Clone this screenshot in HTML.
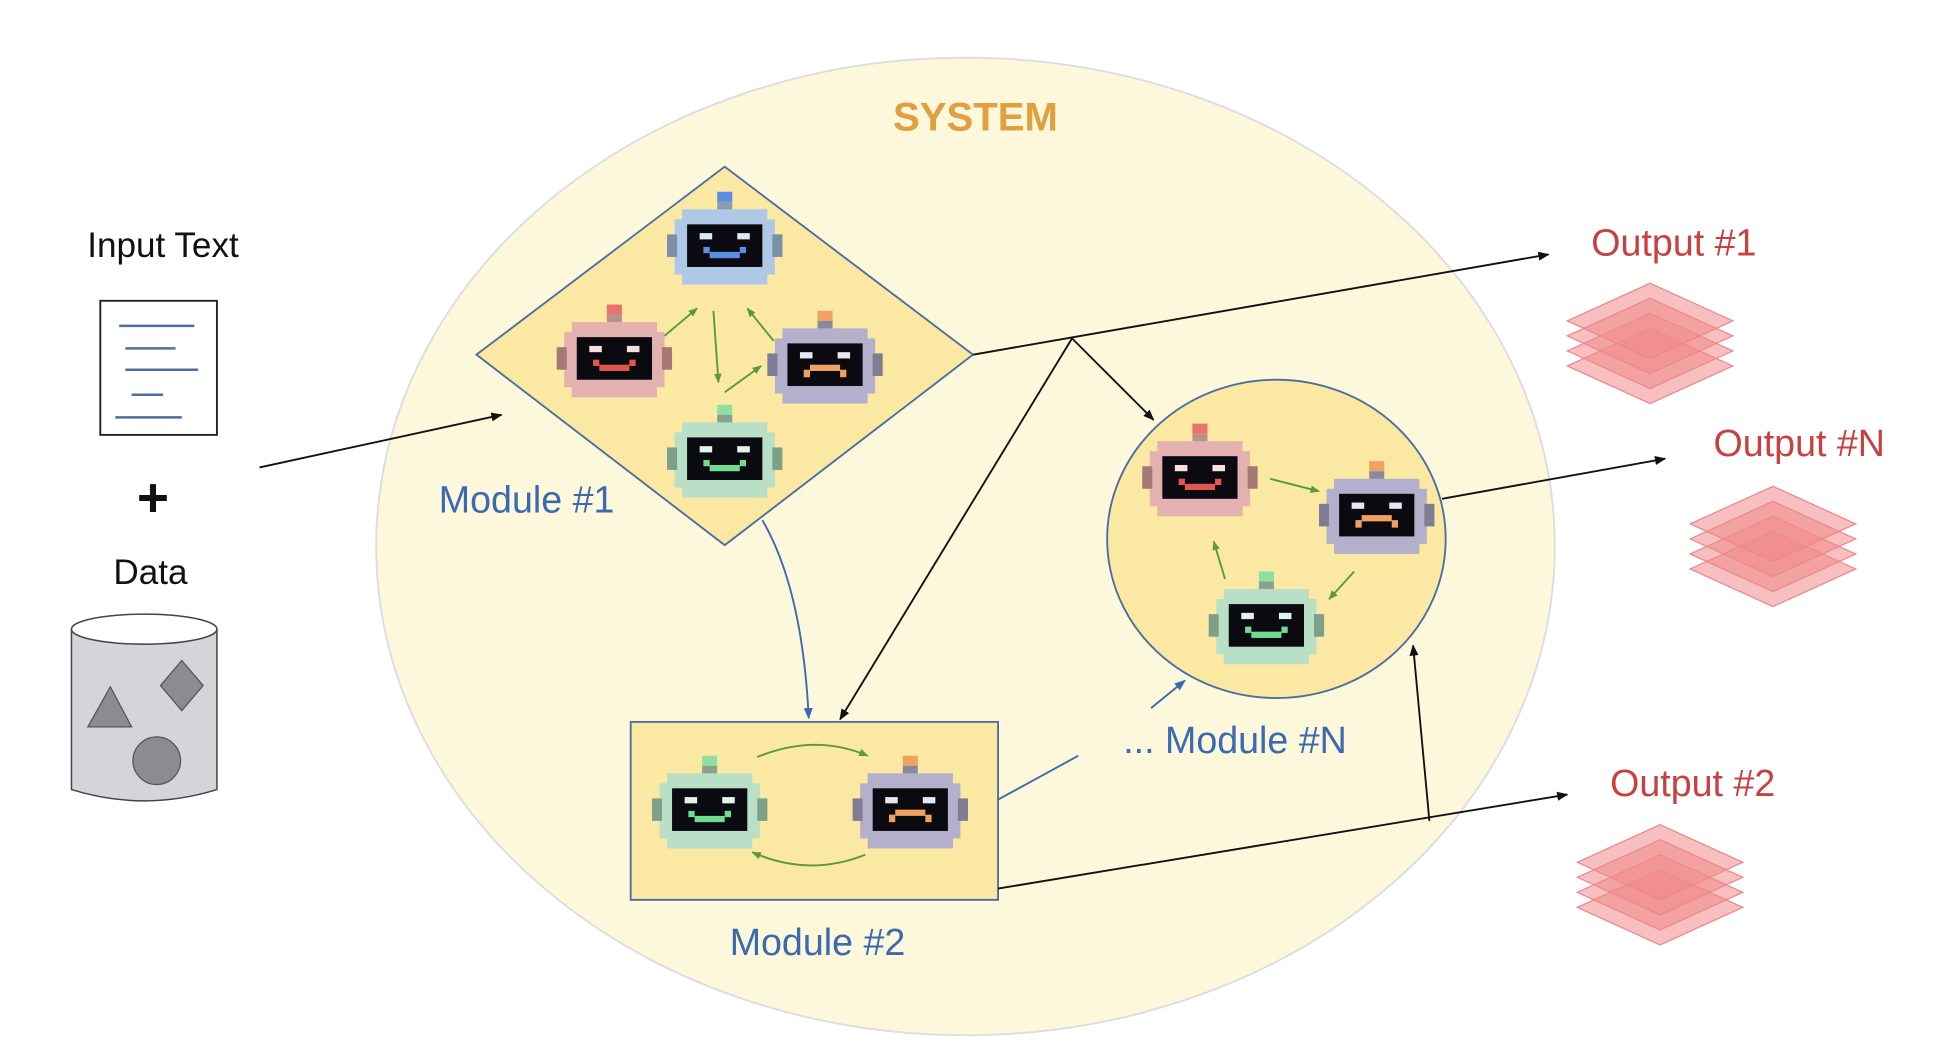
<!DOCTYPE html>
<html><head><meta charset="utf-8"><style>
html,body{margin:0;padding:0;background:#fff;}
svg{display:block}
text{font-family:"Liberation Sans",sans-serif;}
</style></head><body>
<svg width="1956" height="1049" viewBox="0 0 1560 837" preserveAspectRatio="none" xmlns="http://www.w3.org/2000/svg">
<defs>
<marker id="ab" viewBox="0 0 10 10" refX="9" refY="5" markerWidth="6" markerHeight="6" orient="auto"><path d="M0,1 L10,5 L0,9z" fill="#111"/></marker>
<marker id="ag" viewBox="0 0 10 10" refX="9" refY="5" markerWidth="5" markerHeight="5" orient="auto"><path d="M0,1 L10,5 L0,9z" fill="#5a9a3a"/></marker>
<marker id="au" viewBox="0 0 10 10" refX="9" refY="5" markerWidth="6" markerHeight="6" orient="auto"><path d="M0,1 L10,5 L0,9z" fill="#3a6ab0"/></marker>
<g id="stack">
<path d="M0,20 L66,-10 L132,20 L66,50z" fill="#f08a8a" fill-opacity="0.55" stroke="#e88" stroke-width="1"/>
<path d="M0,8 L66,-22 L132,8 L66,38z" fill="#f08a8a" fill-opacity="0.55" stroke="#e88" stroke-width="1"/>
<path d="M0,-4 L66,-34 L132,-4 L66,26z" fill="#f08a8a" fill-opacity="0.55" stroke="#e88" stroke-width="1"/>
<path d="M0,-16 L66,-46 L132,-16 L66,14z" fill="#f08a8a" fill-opacity="0.55" stroke="#e88" stroke-width="1"/>
</g>
</defs>
<rect width="1560" height="837" fill="#fff"/>
<ellipse cx="770" cy="436" rx="470" ry="390" fill="#fdf7dc" stroke="#ddd" stroke-width="1.5"/>
<text x="778" y="104" font-size="32" fill="#e0a040" text-anchor="middle" font-weight="bold">SYSTEM</text>

<path d="M578,133 L776,283 L578,435 L380,283z" fill="#fbe9a3" stroke="#4a6fa0" stroke-width="1.5"/>
<ellipse cx="1018" cy="430" rx="135" ry="127" fill="#fbe9a3" stroke="#4a6fa0" stroke-width="1.5"/>
<rect x="503" y="576" width="293" height="142" fill="#fbe9a3" stroke="#4a6fa0" stroke-width="1.5"/>

<!-- input -->
<text x="130" y="205" font-size="28" text-anchor="middle" fill="#111">Input Text</text>
<rect x="80" y="240" width="93" height="107" fill="#fff" stroke="#222" stroke-width="1.5"/>
<g stroke="#4a6fa0" stroke-width="2"><line x1="95" y1="260" x2="155" y2="260"/><line x1="100" y1="278" x2="140" y2="278"/><line x1="100" y1="295" x2="158" y2="295"/><line x1="105" y1="315" x2="130" y2="315"/><line x1="92" y1="333" x2="145" y2="333"/></g>
<text x="122" y="412" font-size="44" font-weight="bold" text-anchor="middle" fill="#111">+</text>
<text x="120" y="466" font-size="28" text-anchor="middle" fill="#111">Data</text>
<path d="M57,502 L57,630 Q115,648 173,630 L173,502" fill="#d3d5d9" stroke="#444" stroke-width="1.2"/>
<ellipse cx="115" cy="502" rx="58" ry="12" fill="#fff" stroke="#444" stroke-width="1.2"/>
<path d="M70,580 L88,548 L105,580z" fill="#8a8c90" stroke="#555"/>
<path d="M145,527 L162,547 L145,567 L128,547z" fill="#8a8c90" stroke="#555"/>
<circle cx="125" cy="607" r="19" fill="#8a8c90" stroke="#555"/>

<!-- connectors -->
<g stroke="#111" stroke-width="1.5" fill="none">
<line x1="207" y1="373" x2="400" y2="331" marker-end="url(#ab)"/>
<line x1="776" y1="283" x2="1235" y2="203" marker-end="url(#ab)"/>
<line x1="855" y1="270" x2="920" y2="335" marker-end="url(#ab)"/>
<line x1="855" y1="270" x2="670" y2="574" marker-end="url(#ab)"/>
<line x1="1150" y1="398" x2="1328" y2="366" marker-end="url(#ab)"/>
<line x1="796" y1="709" x2="1250" y2="634" marker-end="url(#ab)"/>
<line x1="1140" y1="655" x2="1127" y2="515" marker-end="url(#ab)"/>
</g>
<g stroke="#3a6ab0" stroke-width="1.5" fill="none">
<path d="M608,415 Q640,470 645,573" marker-end="url(#au)"/>
<line x1="796" y1="638" x2="860" y2="603"/>
<line x1="918" y1="565" x2="945" y2="543" marker-end="url(#au)"/>
</g>
<g stroke="#5a9a3a" stroke-width="1.5" fill="none">
<line x1="530" y1="268" x2="556" y2="246" marker-end="url(#ag)"/>
<line x1="569" y1="248" x2="573" y2="305" marker-end="url(#ag)"/>
<line x1="617" y1="272" x2="596" y2="246" marker-end="url(#ag)"/>
<line x1="578" y1="313" x2="607" y2="292" marker-end="url(#ag)"/>
<line x1="1013" y1="382" x2="1052" y2="392" marker-end="url(#ag)"/>
<line x1="1080" y1="456" x2="1060" y2="478" marker-end="url(#ag)"/>
<line x1="977" y1="462" x2="968" y2="432" marker-end="url(#ag)"/>
<path d="M604,604 Q650,585 692,603" marker-end="url(#ag)"/>
<path d="M690,682 Q645,700 600,680" marker-end="url(#ag)"/>
</g>

<!-- robots -->
<g id="rb" transform="translate(578,195)">
<rect x="-6" y="-42" width="12" height="8" fill="#5b8ee0"/><rect x="-6" y="-34" width="12" height="8" fill="#8a9ab0"/>
<rect x="-34" y="-28" width="68" height="60" fill="#aec8e6"/><rect x="-40" y="-20" width="80" height="44" fill="#aec8e6"/>
<rect x="-46" y="-8" width="8" height="18" fill="#7d8fa8"/><rect x="38" y="-8" width="8" height="18" fill="#7d8fa8"/>
<rect x="-30" y="-16" width="60" height="34" fill="#0a0a10"/>
<rect x="-20" y="-9" width="10" height="5" fill="#dfe8f5"/><rect x="10" y="-9" width="10" height="5" fill="#dfe8f5"/>
<rect x="-17" y="2" width="5" height="5" fill="#5b8ee0"/><rect x="12" y="2" width="5" height="5" fill="#5b8ee0"/><rect x="-12" y="6" width="24" height="5" fill="#5b8ee0"/>
</g>
<g id="rp" transform="translate(490,285)">
<rect x="-6" y="-42" width="12" height="8" fill="#e8736a"/><rect x="-6" y="-34" width="12" height="8" fill="#b89090"/>
<rect x="-34" y="-28" width="68" height="60" fill="#e3b2b0"/><rect x="-40" y="-20" width="80" height="44" fill="#e3b2b0"/>
<rect x="-46" y="-8" width="8" height="18" fill="#a67873"/><rect x="38" y="-8" width="8" height="18" fill="#a67873"/>
<rect x="-30" y="-16" width="60" height="34" fill="#0a0a10"/>
<rect x="-20" y="-9" width="10" height="5" fill="#f5e0e0"/><rect x="10" y="-9" width="10" height="5" fill="#f5e0e0"/>
<rect x="-17" y="2" width="5" height="5" fill="#e2574c"/><rect x="12" y="2" width="5" height="5" fill="#e2574c"/><rect x="-12" y="6" width="24" height="5" fill="#e2574c"/>
</g>
<g id="rv" transform="translate(658,290)">
<rect x="-6" y="-42" width="12" height="8" fill="#f0a060"/><rect x="-6" y="-34" width="12" height="8" fill="#8a88a0"/>
<rect x="-34" y="-28" width="68" height="60" fill="#b4b0cc"/><rect x="-40" y="-20" width="80" height="44" fill="#b4b0cc"/>
<rect x="-46" y="-8" width="8" height="18" fill="#807c94"/><rect x="38" y="-8" width="8" height="18" fill="#807c94"/>
<rect x="-30" y="-16" width="60" height="34" fill="#0a0a10"/>
<rect x="-20" y="-9" width="10" height="5" fill="#e8e6f0"/><rect x="10" y="-9" width="10" height="5" fill="#e8e6f0"/>
<rect x="-12" y="1" width="24" height="5" fill="#f0a060"/><rect x="-17" y="5" width="5" height="6" fill="#f0a060"/><rect x="12" y="5" width="5" height="6" fill="#f0a060"/>
</g>
<g id="rg" transform="translate(578,365)">
<rect x="-6" y="-42" width="12" height="8" fill="#8fe0a0"/><rect x="-6" y="-34" width="12" height="8" fill="#8aa090"/>
<rect x="-34" y="-28" width="68" height="60" fill="#b9dfc7"/><rect x="-40" y="-20" width="80" height="44" fill="#b9dfc7"/>
<rect x="-46" y="-8" width="8" height="18" fill="#7ea089"/><rect x="38" y="-8" width="8" height="18" fill="#7ea089"/>
<rect x="-30" y="-16" width="60" height="34" fill="#0a0a10"/>
<rect x="-20" y="-9" width="10" height="5" fill="#e0f5e8"/><rect x="10" y="-9" width="10" height="5" fill="#e0f5e8"/>
<rect x="-17" y="2" width="5" height="5" fill="#6fdd8f"/><rect x="12" y="2" width="5" height="5" fill="#6fdd8f"/><rect x="-12" y="6" width="24" height="5" fill="#6fdd8f"/>
</g>
<use href="#rp" transform="translate(467,95)"/>
<use href="#rv" transform="translate(440,120)"/>
<use href="#rg" transform="translate(432,133)"/>
<use href="#rg" transform="translate(-12,280)"/>
<use href="#rv" transform="translate(68,355)"/>

<!-- labels -->
<text x="420" y="409" font-size="30" fill="#3a6ab0" text-anchor="middle">Module #1</text>
<text x="652" y="762" font-size="30" fill="#3a6ab0" text-anchor="middle">Module #2</text>
<text x="985" y="601" font-size="30" fill="#3a6ab0" text-anchor="middle">... Module #N</text>
<text x="1335" y="204" font-size="30" fill="#c84040" text-anchor="middle">Output #1</text>
<text x="1435" y="364" font-size="30" fill="#c84040" text-anchor="middle">Output #N</text>
<text x="1350" y="635" font-size="30" fill="#c84040" text-anchor="middle">Output #2</text>

<use href="#stack" transform="translate(1250,272)"/>
<use href="#stack" transform="translate(1348,434)"/>
<use href="#stack" transform="translate(1258,704)"/>
</svg>
</body></html>
